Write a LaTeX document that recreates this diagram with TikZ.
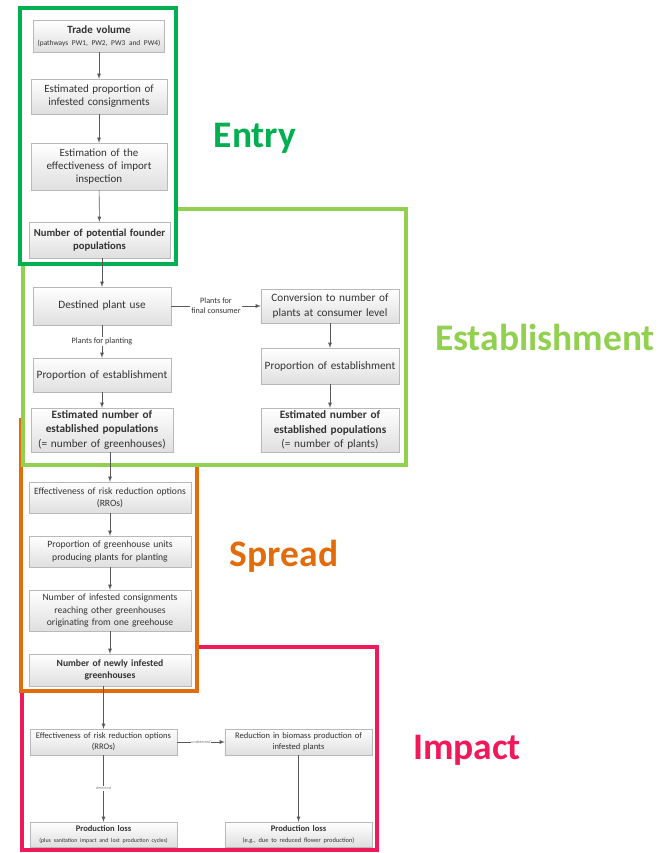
\documentclass[tikz,border=0pt]{standalone}
\usepackage{fontspec}
\setmainfont{Carlito}
\usetikzlibrary{arrows,shadows}

\definecolor{entrygreen}{HTML}{00B050}
\definecolor{estgreen}{HTML}{92D050}
\definecolor{spreadorange}{HTML}{E26B0A}
\definecolor{impactpink}{HTML}{F0195A}
\definecolor{boxtext}{HTML}{333333}

\tikzset{
  frame/.style={line width=4.2pt, fill=white},
  seclabel/.style={font=\fontsize{32}{36}\selectfont\bfseries},
  box/.style={draw=gray!55, top color=white, bottom color=gray!25,
    drop shadow={shadow xshift=.6pt, shadow yshift=-.6pt, opacity=.25},
    align=center, inner sep=1pt, text=boxtext},
  entrybox/.style={box, text width=4.0cm, font=\fontsize{9.4}{11.2}\selectfont},
  estbox/.style={box, text width=4.07cm, font=\fontsize{9.6}{12}\selectfont},
  spreadbox/.style={box, text width=4.79cm, font=\fontsize{8.2}{10.5}\selectfont},
  impbox/.style={box, text width=4.34cm, font=\fontsize{7.3}{9.4}\selectfont},
  arr/.style={->, draw=gray!70!black, line width=0.5pt},
  lbl/.style={fill=white, inner sep=1pt, align=center, text=boxtext, font=\fontsize{7}{8.5}\selectfont},
  tinylbl/.style={fill=white, inner sep=.5pt, text=gray, font=\fontsize{3.5}{4}\selectfont}
}

\begin{document}
\begin{tikzpicture}[x=0.03cm, y=-0.03cm, >=latex]
  \useasboundingbox (0,0) rectangle (663,853);
  % frames of the four stages
  \draw[frame, draw=impactpink] (22,647) rectangle (377,850);
  \draw[frame, draw=spreadorange] (21,420) rectangle (197,691);
  \draw[frame, draw=estgreen] (23,209) rectangle (406,465);
  \draw[frame, draw=entrygreen] (20,8) rectangle (176,264);

  \node[seclabel, text=entrygreen] (entry) at (255,138) {Entry};
  \node[seclabel, text=estgreen] (establ) at (545,337) {Establishment};
  \node[seclabel, text=spreadorange] (spread) at (284,556) {Spread};
  \node[seclabel, text=impactpink] (impact) at (467,750) {Impact};

  % entry
  \node[entrybox, text width=3.86cm, minimum height=0.96cm] (trade) at (99,36) {\textbf{Trade volume}\\[-1pt]{\fontsize{6.3}{8}\selectfont (pathways PW1, PW2, PW3 and PW4)}};
  \node[entrybox, minimum height=1.05cm] (propinf) at (99,96.5) {Estimated proportion of\\infested consignments};
  \node[entrybox, minimum height=1.41cm] (inspect) at (99,166.5) {Estimation of the\\effectiveness of import\\inspection};
  \node[entrybox, text width=4.16cm, minimum height=1.08cm, font=\fontsize{9.1}{11.2}\selectfont] (founder) at (99.5,240) {\mbox{\textbf{Number of potential founder}}\\\textbf{populations}};

  % establishment
  \node[estbox, minimum height=1.14cm] (use) at (102,306) {Destined plant use};
  \node[estbox, minimum height=1.02cm] (conv) at (330,306) {Conversion to number of\\plants at consumer level};
  \node[estbox, minimum height=1.02cm] (estleft) at (102,375) {\mbox{Proportion of establishment}};
  \node[estbox, minimum height=1.08cm] (estright) at (330,366) {\mbox{Proportion of establishment}};
  \node[estbox, text width=4.19cm, minimum height=1.32cm] (popleft) at (102,430) {\textbf{Estimated number of}\\\textbf{established populations}\\(= number of greenhouses)};
  \node[estbox, minimum height=1.32cm] (popright) at (330,430) {\textbf{Estimated number of}\\\textbf{established populations}\\(= number of plants)};

  % spread
  \node[spreadbox, minimum height=0.93cm] (rro) at (110,497.5) {Effectiveness of risk reduction options\\(RROs)};
  \node[spreadbox, minimum height=0.93cm] (ghunits) at (110,551.5) {Proportion of greenhouse units\\producing plants for planting};
  \node[spreadbox, minimum height=1.23cm] (consign) at (110,610.5) {Number of infested consignments\\reaching other greenhouses\\originating from one greehouse};
  \node[spreadbox, minimum height=0.96cm] (newinf) at (110,670) {\textbf{Number of newly infested}\\\textbf{greenhouses}};

  % impact
  \node[impbox, minimum height=0.78cm] (rroimp) at (103.5,742) {Effectiveness of risk reduction options\\(RROs)};
  \node[impbox, minimum height=0.78cm] (biomass) at (298.5,742) {Reduction in biomass production of\\infested plants};
  \node[impbox, minimum height=0.75cm] (lossleft) at (103.5,834.5) {\textbf{Production loss}\\{\fontsize{5}{7}\selectfont (plus sanitation impact and lost production cycles)}};
  \node[impbox, minimum height=0.75cm] (lossright) at (298.5,834.5) {\textbf{Production loss}\\{\fontsize{5.5}{7}\selectfont (e.g., due to reduced flower production)}};

  % connectors
  \draw[arr] (trade) -- (propinf);
  \draw[arr] (propinf) -- (inspect);
  \draw[arr] (inspect) -- (founder);
  \draw[arr] (founder.south -| use.north) -- (use.north);
  \draw[arr] (use) -- node[lbl] {Plants for\\final consumer} (conv);
  \draw[arr] (use) -- node[lbl] {Plants for planting} (estleft);
  \draw[arr] (estleft) -- (popleft);
  \draw[arr] (conv) -- (estright);
  \draw[arr] (estright) -- (popright);
  \draw[arr] (popleft.south -| rro.north) -- (rro.north);
  \draw[arr] (rro) -- (ghunits);
  \draw[arr] (ghunits) -- (consign);
  \draw[arr] (consign) -- (newinf);
  \draw[arr] (newinf.south -| rroimp.north) -- (rroimp.north);
  \draw[arr] (rroimp) -- node[tinylbl] {undetected} (biomass);
  \draw[arr] (rroimp) -- node[tinylbl] {detected} (lossleft);
  \draw[arr] (biomass) -- (lossright);
\end{tikzpicture}
\end{document}
